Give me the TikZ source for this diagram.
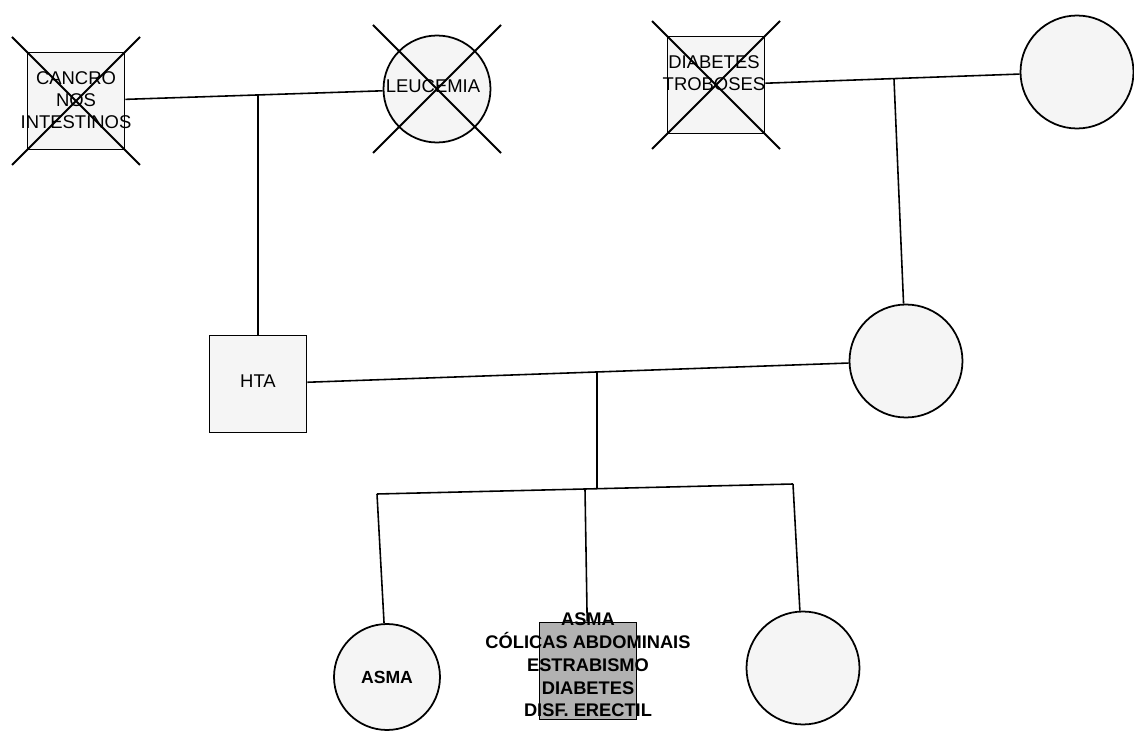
\documentclass[tikz,border=0pt]{standalone}
\usepackage{fontspec}
\setmainfont{Liberation Sans}
\usetikzlibrary{calc}
\tikzset{
male/.style={ % Sets the properties for each man
rectangle, draw, line width=1pt,
fill=gray!8, minimum size=1.94cm, inner sep=0pt},
female/.style={ % Sets the properties for each woman
circle, draw, line width=1pt,
fill=gray!8, minimum size=2.26cm, inner sep=0pt},
index/.style={male, fill=gray!60},
cross/.style={line width=1.1pt}, % Deceased
txt/.style={font=\fontsize{10.5}{12.5}\selectfont, align=center, inner sep=0pt},
every edge/.style={ % Sets the properties for each line
draw,
line width=0.9pt}}

\begin{document}
\begin{tikzpicture}[x=0.02cm,y=-0.02cm]
\useasboundingbox (0,0) rectangle (1134,733);
\node[male ] (c1) at (76,101) {};
\node[female, minimum size=2.14cm ] (l1) at (437,89) {};
\node[male ] (d1) at (716,85) {};
\node[female ] (r1) at (1077,72) {};
\node[male ] (hta) at (258,384) {};
\node[female ] (r2) at (906,361) {};
\node[female, minimum size=2.12cm ] (k1) at (387,677) {};
\node[index ] (k2) at (588,671) {};
\node[female ] (k3) at (803,668) {};
\foreach \p in {c1,l1,d1} {
\draw[cross] ($(\p)+(-64,-64)$) -- ($(\p)+(64,64)$);
\draw[cross] ($(\p)+(64,-64)$) -- ($(\p)+(-64,64)$);
}
\node[txt ] (t1) at (76,100) {CANCRO\\NOS\\INTESTINOS};
\node[txt ] (t2) at (433,86) {LEUCEMIA};
\node[txt ] (t3) at (714,73) {DIABETES\\TROBOSES};
\node[txt ] (t4) at (258,381) {HTA};
\node[txt, font=\fontsize{10}{12.5}\selectfont\bfseries ] (t5) at (387,677) {ASMA};
\node[txt, font=\fontsize{10.4}{13}\selectfont\bfseries ] (t6) at (588,665) {ASMA\\CÓLICAS ABDOMINAIS\\ESTRABISMO\\DIABETES\\DISF. ERECTIL};
\coordinate (m1) at (258,95);
\coordinate (m2) at (894,79);
\coordinate (m3) at (597,372);
\coordinate (sL) at (377,494);
\coordinate (sM) at (585,489);
\coordinate (sS) at (597,489);
\coordinate (sR) at (793,484);
\draw (c1) edge (l1) ;
\draw (m1) edge (hta) ;
\draw (d1) edge (r1) ;
\draw (m2) edge (r2) ;
\draw (hta) edge (r2) ;
\draw (m3) edge (sS) ;
\draw (sL) edge (sR) ;
\draw (sL) edge (k1) ;
\draw (sM) edge (k2) ;
\draw (sR) edge (k3) ;
\end{tikzpicture}
\end{document}
